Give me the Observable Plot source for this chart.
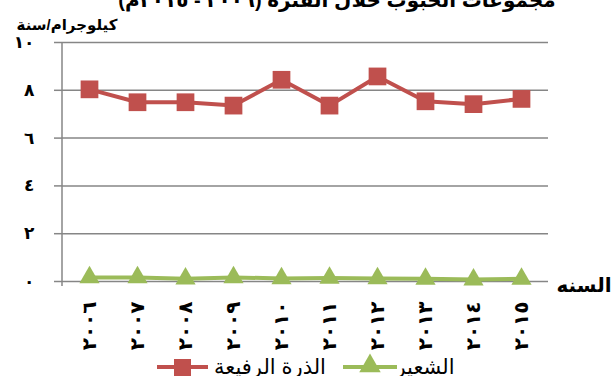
<!DOCTYPE html>
<html><head><meta charset="utf-8">
<script src="https://cdn.jsdelivr.net/npm/d3@7"></script>
<script src="https://cdn.jsdelivr.net/npm/@observablehq/plot@0.6"></script>
<style>
html,body{margin:0;padding:0;background:#fff;overflow:hidden;}
#chart{position:relative;width:613px;height:376px;}
</style>
</head><body><div id="chart"></div>
<script>
const years = ["2006","2007","2008","2009","2010","2011","2012","2013","2014","2015"];
const yearLabels = ["٢٠٠٦","٢٠٠٧","٢٠٠٨","٢٠٠٩","٢٠١٠","٢٠١١","٢٠١٢","٢٠١٣","٢٠١٤","٢٠١٥"];
const sorghum = [8.04, 7.50, 7.50, 7.36, 8.44, 7.36, 8.58, 7.54, 7.42, 7.64];
const barley = [0.17, 0.17, 0.12, 0.17, 0.13, 0.15, 0.13, 0.11, 0.08, 0.11];
const yTicks = [0, 2, 4, 6, 8, 10];
const yTickLabels = ["٠", "٢", "٤", "٦", "٨", "١٠"];
const seriesNames = ["الذرة الرفيعة", "الشعير"];
const titleText = "مجموعات الحبوب خلال الفترة (٢٠٠٦ - ٢٠١٥م)";
const yTitle = "كيلوجرام/سنة";
const xTitle = "السنه";

const red = "#C0504D", green = "#9BBB59", grid = "#868686";
const font = "'Liberation Sans', Arial, 'DejaVu Sans', sans-serif";

const sData = years.map((y, i) => ({year: y, v: sorghum[i]}));
const bData = years.map((y, i) => ({year: y, v: barley[i]}));
const yLab = new Map(yTicks.map((t, i) => [t, yTickLabels[i]]));
const xLab = new Map(years.map((y, i) => [y, yearLabels[i]]));

const chart = Plot.plot({
  width: 613, height: 376,
  marginLeft: 62, marginRight: 65, marginTop: 42, marginBottom: 95,
  style: {fontFamily: font, background: "white"},
  x: {type: "point", domain: years, padding: 0.5, label: null},
  y: {domain: [0, 10], label: null},
  marks: [
    Plot.ruleY(yTicks, {stroke: grid, strokeWidth: 1.5}),
    Plot.axisY(yTicks, {tickSize: 8, tickPadding: 20, stroke: grid, strokeWidth: 1.5, fill: "black",
      tickFormat: d => yLab.get(d), fontSize: 17, fontWeight: "bold", label: null}),
    Plot.axisX(years, {tickSize: 0, tickRotate: -90, tickPadding: 20, fill: "black",
      tickFormat: d => xLab.get(d), fontSize: 20, fontWeight: "bold", label: null}),
    Plot.line(bData, {x: "year", y: "v", stroke: green, strokeWidth: 4}),
    Plot.dot(bData, {x: "year", y: "v", symbol: "triangle", r: 7.5, fill: green, stroke: "none"}),
    Plot.line(sData, {x: "year", y: "v", stroke: red, strokeWidth: 4}),
    Plot.dot(sData, {x: "year", y: "v", symbol: "square", r: 10, fill: red, stroke: "none"})
  ]
});
document.getElementById("chart").appendChild(chart);

const svg = d3.select(chart);
// y axis line
svg.append("line").attr("x1", 62).attr("x2", 62).attr("y1", 42).attr("y2", 286)
  .attr("stroke", grid).attr("stroke-width", 1.5);
// title (clipped at top, as in the reference)
svg.append("text").attr("x", 337).attr("y", 7).attr("text-anchor", "middle")
  .attr("font-size", 20).attr("font-weight", "bold").attr("font-family", font).text(titleText);
// y title
svg.append("text").attr("x", 67).attr("y", 30).attr("text-anchor", "middle")
  .attr("font-size", 15).attr("font-weight", "bold").attr("font-family", font).text(yTitle);
// x title
svg.append("text").attr("x", 584).attr("y", 292).attr("text-anchor", "middle")
  .attr("font-size", 20).attr("font-weight", "bold").attr("font-family", font).text(xTitle);
// legend
const lg = svg.append("g").attr("font-family", font).attr("font-size", 21);
lg.append("line").attr("x1", 157).attr("x2", 208).attr("y1", 367).attr("y2", 367).attr("stroke", red).attr("stroke-width", 4);
lg.append("rect").attr("x", 174).attr("y", 359).attr("width", 17).attr("height", 17).attr("fill", red);
lg.append("text").attr("x", 270).attr("y", 374).attr("text-anchor", "middle").text(seriesNames[0]);
lg.append("line").attr("x1", 343).attr("x2", 397).attr("y1", 367).attr("y2", 367).attr("stroke", green).attr("stroke-width", 4);
lg.append("path").attr("d", d3.symbol(d3.symbolTriangle, 200)()).attr("transform", "translate(370,366)").attr("fill", green);
lg.append("text").attr("x", 425).attr("y", 374).attr("text-anchor", "middle").text(seriesNames[1]);
</script>
</body></html>
